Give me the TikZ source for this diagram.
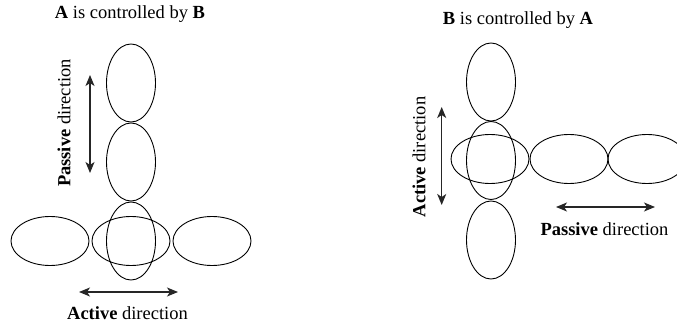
\documentclass[tikz,border=0pt]{standalone}
\usepackage{fontspec}
\setmainfont{Liberation Serif}
\usetikzlibrary{shapes.geometric,arrows.meta}
\begin{document}
\begin{tikzpicture}[x=1pt,y=-1pt,
  hcell/.style={draw, ellipse, line width=0.9pt, minimum width=78pt, minimum height=49pt, inner sep=0pt},
  vcell/.style={draw, ellipse, line width=0.9pt, minimum width=49pt, minimum height=78pt, inner sep=0pt},
  dirarrow/.style={{Stealth[length=11pt,width=9pt,inset=3pt]}-{Stealth[length=11pt,width=9pt,inset=3pt]}, line width=1.3pt, draw=black!85},
  lbl/.style={font=\fontsize{18.5}{20}\selectfont, inner sep=0pt}]
\clip (0,0) rectangle (677,326);
\fill[white] (0,0) rectangle (677,326);
% Left panel
\node[lbl] (titleL) at (130,14) {\textbf{A} is controlled by \textbf{B}};
\node[vcell] (lv1) at (131,83) {};
\node[vcell] (lv2) at (131,162) {};
\node[vcell] (lv3) at (131,241) {};
\node[hcell] (lh1) at (50,241) {};
\node[hcell] (lh2) at (131,241) {};
\node[hcell] (lh3) at (212,241) {};
\coordinate (lpa) at (90,75);
\coordinate (lpb) at (90,173);
\draw[dirarrow] (lpa) -- (lpb);
\node[lbl, rotate=90] (lpt) at (64,123) {\textbf{Passive} direction};
\coordinate (laa) at (79,292);
\coordinate (lab) at (178,292);
\draw[dirarrow] (laa) -- (lab);
\node[lbl] (lat) at (127.5,313) {\textbf{Active} direction};
% Right panel
\node[lbl] (titleR) at (518,20) {\textbf{B} is controlled by \textbf{A}};
\node[vcell] (rv1) at (491,82) {};
\node[vcell] (rv2) at (491,160.5) {};
\node[vcell] (rv3) at (491,240) {};
\node[hcell] (rh1) at (490,159) {};
\node[hcell] (rh2) at (569,159) {};
\node[hcell] (rh3) at (647,159) {};
\coordinate (raa) at (441.7,107);
\coordinate (rab) at (441.7,205);
\draw[dirarrow] (raa) -- (rab);
\node[lbl, rotate=90] (rat) at (419,157) {\textbf{Active} direction};
\coordinate (rpa) at (556,207);
\coordinate (rpb) at (655,207);
\draw[dirarrow] (rpa) -- (rpb);
\node[lbl] (rpt) at (604.5,229) {\textbf{Passive} direction};
\end{tikzpicture}
\end{document}
